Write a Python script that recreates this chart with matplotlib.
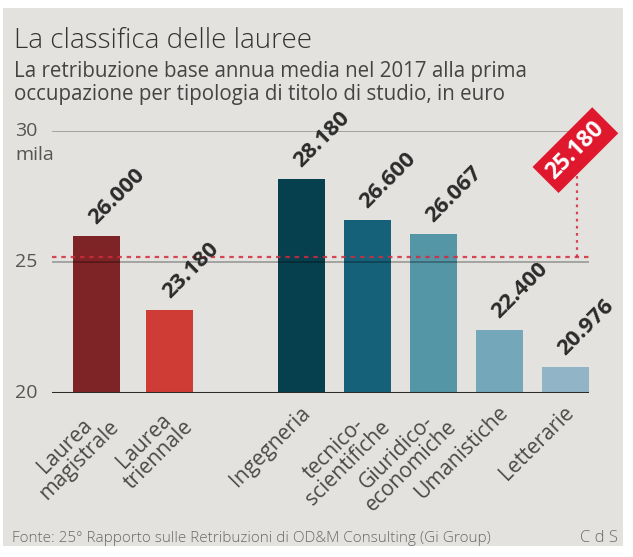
import matplotlib
matplotlib.use("Agg")
import matplotlib.pyplot as plt
from matplotlib.patches import Rectangle

categories = ["Laurea\nmagistrale", "Laurea\ntriennale", "Ingegneria",
              "tecnico-\nscientifiche", "Giuridico-\neconomiche", "Umanistiche", "Letterarie"]
values = [26.000, 23.180, 28.180, 26.600, 26.067, 22.400, 20.976]
value_labels = ["26.000", "23.180", "28.180", "26.600", "26.067", "22.400", "20.976"]
average = 25.180
average_label = "25.180"
yticks = [20, 25, 30]
ytick_labels = ["20", "25", "30"]

colors = ["#7e2326", "#cf3c36", "#063f4e", "#15617a", "#5495a6", "#74a7b9", "#91b5c7"]
xpos = [0, 1.11, 3.1, 4.1, 5.1, 6.1, 7.1]

W, H = 633, 557
fig = plt.figure(figsize=(W / 100, H / 100), dpi=100)
fig.patch.set_facecolor("white")
fig.add_artist(Rectangle((3 / W, 1 - 546 / H), 620 / W, 538 / H,
                         transform=fig.transFigure, fc="#e3e2de", ec="none", zorder=-10))

sans = ["Open Sans", "DejaVu Sans"]

ax_l, ax_r = 52, 589
ax_b, ax_t = 393, 131
ax = fig.add_axes([ax_l / W, 1 - ax_b / H, (ax_r - ax_l) / W, (ax_b - ax_t) / H])
ax.set_facecolor("none")
ax.set_ylim(20, 30)
ax.set_xlim(-0.674, 7.456)
for s in ax.spines.values():
    s.set_visible(False)
ax.set_xticks([])
ax.set_yticks([])

ax.bar(xpos, [v - 20 for v in values], bottom=20, width=0.712, color=colors, zorder=2)

# grid lines
for yv in yticks[1:]:
    ax.axhline(yv, color="black", alpha=0.3, lw=1.3, zorder=3)
ax.axhline(20, color="#2a2a2a", lw=2.2, zorder=4)

# average dashed line
ax.plot([-0.674, 7.45], [average, average], color="#d42a3c", lw=1.6,
        dashes=(2, 2.2), zorder=5, alpha=0.85)
ax.plot([7.27, 7.27], [average, 28.6], color="#d42a3c", lw=1.6,
        dashes=(1.2, 2.0), zorder=5, alpha=0.85, clip_on=False)
ax.text(7.25, 29.27, average_label, rotation=45, rotation_mode="anchor",
        ha="center", va="center", color="white", fontsize=16.5, fontweight="bold",
        family=sans, zorder=7, clip_on=False,
        bbox=dict(boxstyle="square,pad=0.28", fc="#e0182d", ec="none"))

# value labels
for x, v, lab in zip(xpos, values, value_labels):
    ax.text(x + 0.0, v + 0.42, lab, rotation=45, rotation_mode="anchor",
            ha="left", va="baseline", fontsize=16, fontweight="bold",
            color="#2b2b2b", family=sans, zorder=6, clip_on=False)

# category labels
for x, c in zip(xpos, categories):
    ax.text(x - 0.03, 19.65, c, rotation=45, rotation_mode="anchor",
            ha="right", va="top", multialignment="center", fontsize=15.2,
            color="#4a4a4a", family=sans, linespacing=0.95, clip_on=False)

# y tick labels
for yv, lab in zip(yticks, ytick_labels):
    ax.text(-0.674 - 37 / 66, yv, lab, ha="left", va="center", fontsize=14,
            color="#555555", family=sans, clip_on=False)
ax.text(-0.674 - 37 / 66, 29.1, "mila", ha="left", va="center", fontsize=14,
        color="#555555", family=sans, clip_on=False)

# titles
fig.text(14 / W, 1 - 48 / H, "La classifica delle lauree", ha="left", va="baseline",
         fontsize=20, fontweight="light", color="#333333", family=sans)
fig.text(14 / W, 1 - 77 / H, "La retribuzione base annua media nel 2017 alla prima",
         ha="left", va="baseline", fontsize=14.8, color="#444444", family=sans)
fig.text(14 / W, 1 - 100 / H, "occupazione per tipologia di titolo di studio, in euro",
         ha="left", va="baseline", fontsize=14.8, color="#444444", family=sans)

fig.text(12 / W, 1 - 542 / H,
         "Fonte: 25° Rapporto sulle Retribuzioni di OD&M Consulting (Gi Group)",
         ha="left", va="baseline", fontsize=11, fontweight="light", color="#6a6a6a", family=sans)
fig.text(618 / W, 1 - 542 / H, "C d S", ha="right", va="baseline", fontsize=12,
         fontweight="light", color="#6a6a6a", family=sans)

fig.savefig("out.png", dpi=100, facecolor="white")
